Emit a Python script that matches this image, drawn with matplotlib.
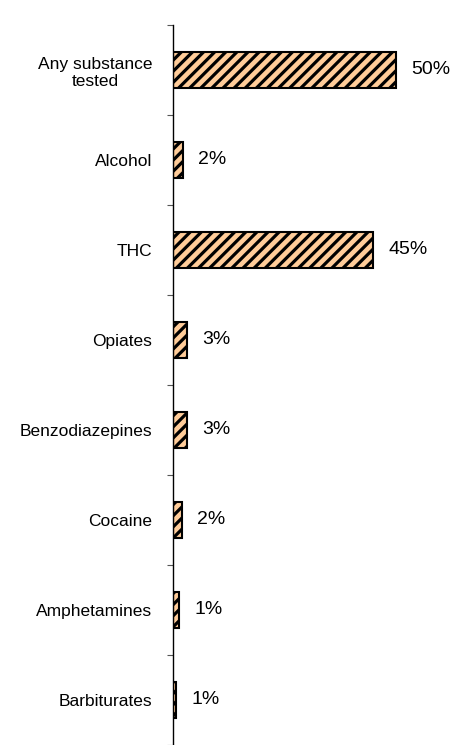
import numpy as np
import matplotlib.pyplot as plt

plt.rcParams['font.family'] = ['Liberation Sans', 'DejaVu Sans']
plt.rcParams['hatch.linewidth'] = 2.3
plt.rcParams['hatch.color'] = 'black'

# Data
categories = ['Any substance\ntested', 'Alcohol', 'THC', 'Opiates',
              'Benzodiazepines', 'Cocaine', 'Amphetamines', 'Barbiturates']
values = [50, 2.2, 44.9, 3.1, 3.1, 2.0, 1.3, 0.7]
value_labels = ['50%', '2%', '45%', '3%', '3%', '2%', '1%', '1%']


def plot_substance_chart(target_path):
    fig = plt.figure(figsize=(4.53, 7.45), dpi=100)
    ax = fig.add_axes([173 / 453, 0, 267.6 / 453, 720 / 745])

    y = np.arange(len(categories))
    ax.barh(y, values, height=0.41, color='#FFCC99', edgecolor='black',
            linewidth=1.5, hatch='///')

    for yi, v, lab in zip(y, values, value_labels):
        ax.annotate(lab, (v, yi), xytext=(11, 0), textcoords='offset points',
                    va='center', ha='left', fontsize=14)

    ax.set_ylim(len(categories) - 0.5, -0.5)
    ax.set_xlim(0, 60)

    # Category labels, no tick marks
    ax.set_yticks(y)
    ax.set_yticklabels(categories, fontsize=12.5, multialignment='center')
    ax.tick_params(axis='y', which='major', length=0, pad=15)

    # Tick marks between categories
    ax.set_yticks(np.arange(-0.5, len(categories)), minor=True)
    ax.tick_params(axis='y', which='minor', length=4.5, width=0.8,
                   color='#555555', direction='out')

    ax.set_xticks([])
    for side in ['top', 'right', 'bottom']:
        ax.spines[side].set_visible(False)
    ax.spines['left'].set_linewidth(1.0)

    fig.savefig(target_path, dpi=100)


plot_substance_chart('out.png')
